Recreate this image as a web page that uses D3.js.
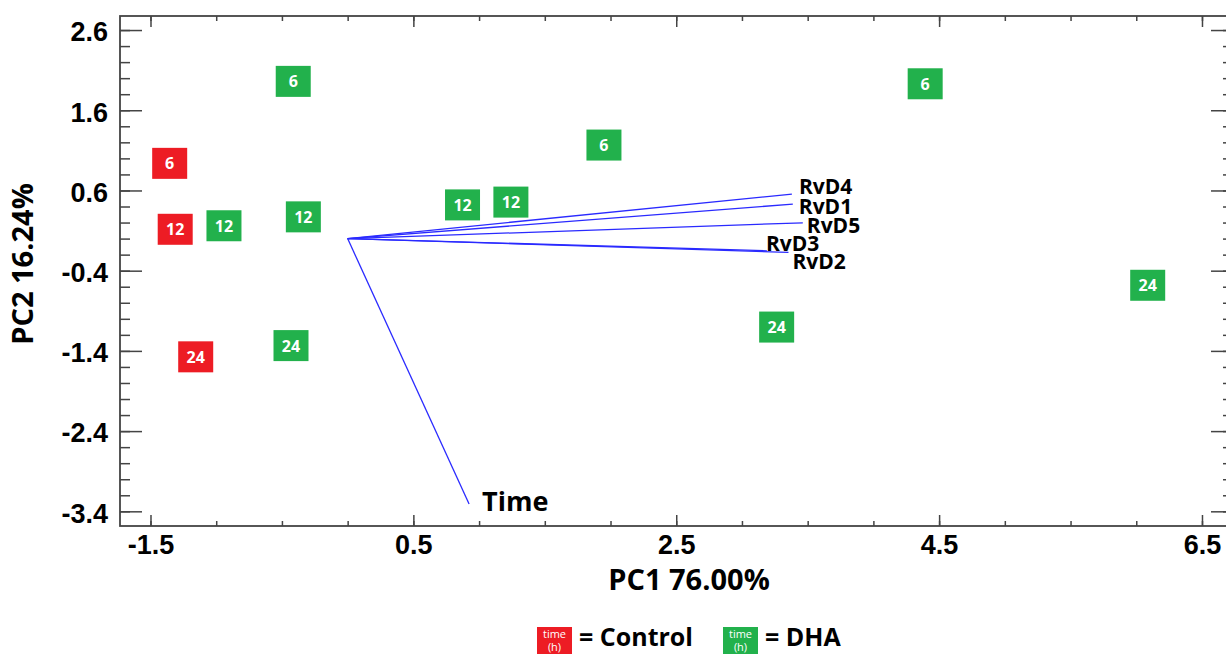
<!DOCTYPE html>
<html>
<head>
<meta charset="utf-8">
<script src="https://cdn.jsdelivr.net/npm/d3@7"></script>
<style>
    body { margin: 0; background: #fff; }
    svg { display: block; font-family: "Open Sans", sans-serif; }
    .tick text { font-weight: 700; font-size: 27px; fill: #000; }
    .axis path { display: none; }
    .axis line { stroke: #444; stroke-width: 1.5; }
</style>
</head>
<body>
<svg id="chart" width="1226" height="654"></svg>
<script>
// scores (one row per sample)
const groups = ["Control", "Control", "Control",
    "DHA", "DHA", "DHA", "DHA", "DHA", "DHA", "DHA", "DHA", "DHA", "DHA"];
const times = [6, 12, 24, 6, 6, 6, 12, 12, 12, 12, 24, 24, 24];
const pc1 = [-1.354, -1.312, -1.156, -0.414, 1.95, 4.394, -0.941, -0.337, 0.874, 1.242, -0.431, 3.264, 6.087];
const pc2 = [0.938, 0.116, -1.474, 1.96, 1.166, 1.93, 0.160, 0.271, 0.42, 0.455, -1.334, -1.103, -0.582];

// loadings
const loadNames = ["RvD4", "RvD1", "RvD5", "RvD3", "RvD2", "Time"];
const loadX = [3.38, 3.387, 3.463, 3.19, 3.354, 0.924];
const loadY = [0.555, 0.43, 0.197, -0.152, -0.172, -3.31];

// axes
const xTicks = [-1.5, 0.5, 2.5, 4.5, 6.5];
const yTicks = [2.6, 1.6, 0.6, -0.4, -1.4, -2.4, -3.4];
const xDomain = [-1.732, 6.736];
const yDomain = [-3.583, 2.775];
const xTitle = "PC1 76.00%";
const yTitle = "PC2 16.24%";

const groupColor = { Control: "#ed1c24", DHA: "#22b14c" };

// hand nudges so the crowded loading labels do not sit on each other
const labelNudge = {
    RvD4: [7, -8], RvD1: [6, 2], RvD5: [4, 2],
    RvD3: [-1, -8], RvD2: [4, 9], Time: [13, -4]
};

const M = { left: 120, right: 1233, top: 16, bottom: 526 };

const svg = d3.select("#chart");

const x = d3.scaleLinear().domain(xDomain).range([M.left, M.right]);
const y = d3.scaleLinear().domain(yDomain).range([M.bottom, M.top]);

const xMinor = d3.range(-1.5, 6.51, 0.5);
const yMinor = d3.range(-3.4, 2.61, 0.2).map(v => +v.toFixed(1));
const fmt = d => d.toFixed(1);   // plain hyphen minus, like the original

// frame
svg.append("rect")
    .attr("x", M.left).attr("y", M.top)
    .attr("width", M.right - M.left).attr("height", M.bottom - M.top)
    .attr("fill", "none")
    .attr("stroke", "#444")
    .attr("stroke-width", 1.8);

function addAxis(axis, transform, cls) {
    return svg.append("g")
        .attr("class", "axis " + (cls || ""))
        .attr("transform", transform)
        .call(axis);
}

// minor ticks first, then the major ones with labels
addAxis(d3.axisBottom(x).tickValues(xMinor).tickSize(-5).tickFormat(""), `translate(0,${M.bottom})`);
addAxis(d3.axisTop(x).tickValues(xMinor).tickSize(-5).tickFormat(""), `translate(0,${M.top})`);
addAxis(d3.axisLeft(y).tickValues(yMinor).tickSize(-10).tickFormat(""), `translate(${M.left},0)`);
addAxis(d3.axisRight(y).tickValues(yMinor).tickSize(-10).tickFormat(""), `translate(${M.right},0)`);

addAxis(d3.axisTop(x).tickValues(xTicks).tickSize(-11).tickFormat(""), `translate(0,${M.top})`);
addAxis(d3.axisRight(y).tickValues(yTicks).tickSize(-22).tickFormat(""), `translate(${M.right},0)`);

addAxis(d3.axisBottom(x).tickValues(xTicks).tickSize(-11).tickPadding(9)
    .tickFormat(fmt), `translate(0,${M.bottom})`, "axis--x");
addAxis(d3.axisLeft(y).tickValues(yTicks).tickSize(-22).tickPadding(12)
    .tickFormat(fmt), `translate(${M.left},0)`, "axis--y")
    .selectAll("text").attr("dy", "0.4em");

// axis titles
svg.append("text")
    .attr("x", 689).attr("y", 590)
    .attr("text-anchor", "middle")
    .attr("font-size", 29).attr("font-weight", 700)
    .text(xTitle);

svg.append("text")
    .attr("transform", "translate(33,264) rotate(-90)")
    .attr("text-anchor", "middle")
    .attr("font-size", 29).attr("font-weight", 700)
    .text(yTitle);

// loading vectors
const loads = loadNames.map((n, i) => ({ name: n, x: loadX[i], y: loadY[i] }));

svg.append("g").selectAll("line")
    .data(loads)
    .join("line")
    .attr("x1", x(0)).attr("y1", y(0))
    .attr("x2", d => x(d.x)).attr("y2", d => y(d.y))
    .attr("stroke", "#2a2aff")
    .attr("stroke-width", 1.3);

svg.append("g").selectAll("text")
    .data(loads)
    .join("text")
    .attr("x", d => x(d.x) + labelNudge[d.name][0])
    .attr("y", d => y(d.y) + labelNudge[d.name][1])
    .attr("dominant-baseline", "central")
    .attr("font-size", d => d.name === "Time" ? 27 : 21)
    .attr("font-weight", 700)
    .text(d => d.name);

// score boxes
const samples = groups.map((g, i) => ({ group: g, time: times[i], x: pc1[i], y: pc2[i] }));
const boxW = 35, boxH = 31;

const box = svg.append("g").selectAll("g")
    .data(samples)
    .join("g")
    .attr("transform", d => `translate(${x(d.x)},${y(d.y)})`);

box.append("rect")
    .attr("x", -boxW / 2).attr("y", -boxH / 2)
    .attr("width", boxW).attr("height", boxH)
    .attr("fill", d => groupColor[d.group]);

box.append("text")
    .attr("text-anchor", "middle")
    .attr("dominant-baseline", "central")
    .attr("fill", "#fff")
    .attr("font-size", 16)
    .attr("font-weight", 700)
    .text(d => d.time);

// legend
const legendX = [537, 723];
const legend = svg.append("g").selectAll("g")
    .data(Object.keys(groupColor))
    .join("g")
    .attr("transform", (d, i) => `translate(${legendX[i]},627)`);

legend.append("rect")
    .attr("width", boxW).attr("height", boxH)
    .attr("fill", d => groupColor[d]);

legend.append("text")
    .attr("x", boxW / 2).attr("y", 11)
    .attr("text-anchor", "middle")
    .attr("fill", "#fff").attr("font-size", 11)
    .text("time");

legend.append("text")
    .attr("x", boxW / 2).attr("y", 24)
    .attr("text-anchor", "middle")
    .attr("fill", "#fff").attr("font-size", 11)
    .text("(h)");

legend.append("text")
    .attr("x", boxW + 7).attr("y", 19)
    .attr("font-size", 25).attr("font-weight", 700)
    .text(d => "= " + d);
</script>
</body>
</html>
